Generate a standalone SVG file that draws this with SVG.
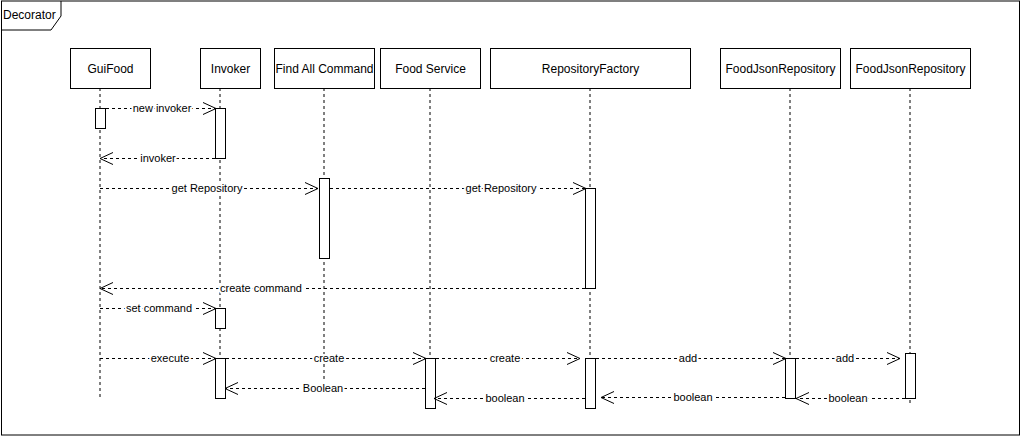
<svg xmlns="http://www.w3.org/2000/svg" width="1021" height="437" viewBox="0 0 1021 437">
<defs>
<style>
.frame{fill:none;stroke:#000;stroke-width:1}
.box{fill:#fff;stroke:#000;stroke-width:1}
.life{stroke:#000;stroke-width:1;stroke-dasharray:3 3;fill:none}
.msg{stroke:#000;stroke-width:1;stroke-dasharray:3 3;fill:none;marker-end:url(#open)}
.act{fill:#fff;stroke:#000;stroke-width:1}
.nl{font-family:"Liberation Sans",Arial,sans-serif;font-size:12px;fill:#000;text-anchor:middle}
.ml{font-family:"Liberation Sans",Arial,sans-serif;font-size:11px;fill:#000;text-anchor:middle;stroke:#fff;stroke-width:4;paint-order:stroke;stroke-linejoin:round}
</style>
<marker id="open" markerUnits="userSpaceOnUse" viewBox="-14 -7 15 14" markerWidth="15" markerHeight="14" refX="0" refY="0" orient="auto" overflow="visible">
<path d="M-13,-6 L0,0 L-13,6" fill="none" stroke="#000" stroke-width="1" stroke-dasharray="none"/>
</marker>
</defs>
<rect width="1021" height="437" fill="#fff"/>
<g id="frame">
<rect class="frame" x="1.5" y="1" width="1018" height="434"/>
<path class="frame" d="M1.5,30 H51 L61,16 V1"/>
<text x="3" y="19" font-family="'Liberation Sans',Arial,sans-serif" font-size="12" fill="#000">Decorator</text>
</g>
<g id="lifelines">
<line class="life" x1="100" y1="88" x2="100" y2="398"/>
<line class="life" x1="220" y1="88" x2="220" y2="398"/>
<line class="life" x1="324" y1="88" x2="324" y2="380"/>
<line class="life" x1="430" y1="88" x2="430" y2="408"/>
<line class="life" x1="590" y1="88" x2="590" y2="408"/>
<line class="life" x1="790" y1="88" x2="790" y2="398"/>
<line class="life" x1="910" y1="88" x2="910" y2="403"/>
</g>
<g id="node-guifood">
<rect class="box" x="70.5" y="48.5" width="80" height="40"/>
<text class="nl" x="110.5" y="72.5">GuiFood</text>
<rect class="act" x="95.5" y="108.5" width="10" height="20"/>
</g>
<g id="node-invoker">
<rect class="box" x="200.5" y="48.5" width="60" height="40"/>
<text class="nl" x="230.5" y="72.5">Invoker</text>
<rect class="act" x="215.5" y="108.5" width="10" height="50"/>
<rect class="act" x="215.5" y="308.5" width="10" height="20"/>
<rect class="act" x="215.5" y="358.5" width="10" height="40"/>
</g>
<g id="node-findall">
<rect class="box" x="274.5" y="48.5" width="100" height="40"/>
<text class="nl" x="324.5" y="72.5">Find All Command</text>
<rect class="act" x="319.5" y="178.5" width="10" height="80"/>
</g>
<g id="node-foodservice">
<rect class="box" x="380.5" y="48.5" width="100" height="40"/>
<text class="nl" x="430.5" y="72.5">Food Service</text>
<rect class="act" x="425.5" y="358.5" width="10" height="50"/>
</g>
<g id="node-repofactory">
<rect class="box" x="490.5" y="48.5" width="200" height="40"/>
<text class="nl" x="590.5" y="72.5">RepositoryFactory</text>
<rect class="act" x="585.5" y="188.5" width="10" height="100"/>
<rect class="act" x="585.5" y="358.5" width="10" height="50"/>
</g>
<g id="node-foodjson1">
<rect class="box" x="720.5" y="48.5" width="120" height="40"/>
<text class="nl" x="780.5" y="72.5">FoodJsonRepository</text>
<rect class="act" x="785.5" y="358.5" width="10" height="40"/>
</g>
<g id="node-foodjson2">
<rect class="box" x="850.5" y="48.5" width="120" height="40"/>
<text class="nl" x="910.5" y="72.5">FoodJsonRepository</text>
<rect class="act" x="905.5" y="353.5" width="10" height="45"/>
</g>
<g id="connectors">
<line class="msg" x1="106" y1="108.5" x2="216" y2="108.5"/>
<line class="msg" x1="215" y1="158.5" x2="100" y2="158.5"/>
<line class="msg" x1="100" y1="188.5" x2="318" y2="188.5"/>
<line class="msg" x1="330" y1="188.5" x2="586" y2="188.5"/>
<line class="msg" x1="585" y1="288.5" x2="100" y2="288.5"/>
<line class="msg" x1="100" y1="308.5" x2="216" y2="308.5"/>
<line class="msg" x1="100" y1="358.5" x2="216" y2="358.5"/>
<line class="msg" x1="226" y1="358.5" x2="426" y2="358.5"/>
<line class="msg" x1="425" y1="388.5" x2="225" y2="388.5"/>
<line class="msg" x1="436" y1="358.5" x2="580" y2="358.5"/>
<line class="msg" x1="585" y1="398.5" x2="434" y2="398.5"/>
<line class="msg" x1="596" y1="358.5" x2="786" y2="358.5"/>
<line class="msg" x1="785" y1="397.5" x2="601" y2="397.5"/>
<line class="msg" x1="796" y1="358.5" x2="900" y2="358.5"/>
<line class="msg" x1="905" y1="398.5" x2="796" y2="398.5"/>
<text class="ml" x="162" y="112">new invoker</text>
<text class="ml" x="158" y="162">invoker</text>
<text class="ml" x="207" y="192">get Repository</text>
<text class="ml" x="501" y="192">get Repository</text>
<text class="ml" x="261" y="292">create command</text>
<text class="ml" x="159" y="312">set command</text>
<text class="ml" x="170" y="362">execute</text>
<text class="ml" x="329" y="362">create</text>
<text class="ml" x="323" y="392">Boolean</text>
<text class="ml" x="505" y="362">create</text>
<text class="ml" x="505" y="402">boolean</text>
<text class="ml" x="688" y="362">add</text>
<text class="ml" x="693" y="401">boolean</text>
<text class="ml" x="845" y="362">add</text>
<text class="ml" x="848" y="402">boolean</text>
</g>
</svg>
